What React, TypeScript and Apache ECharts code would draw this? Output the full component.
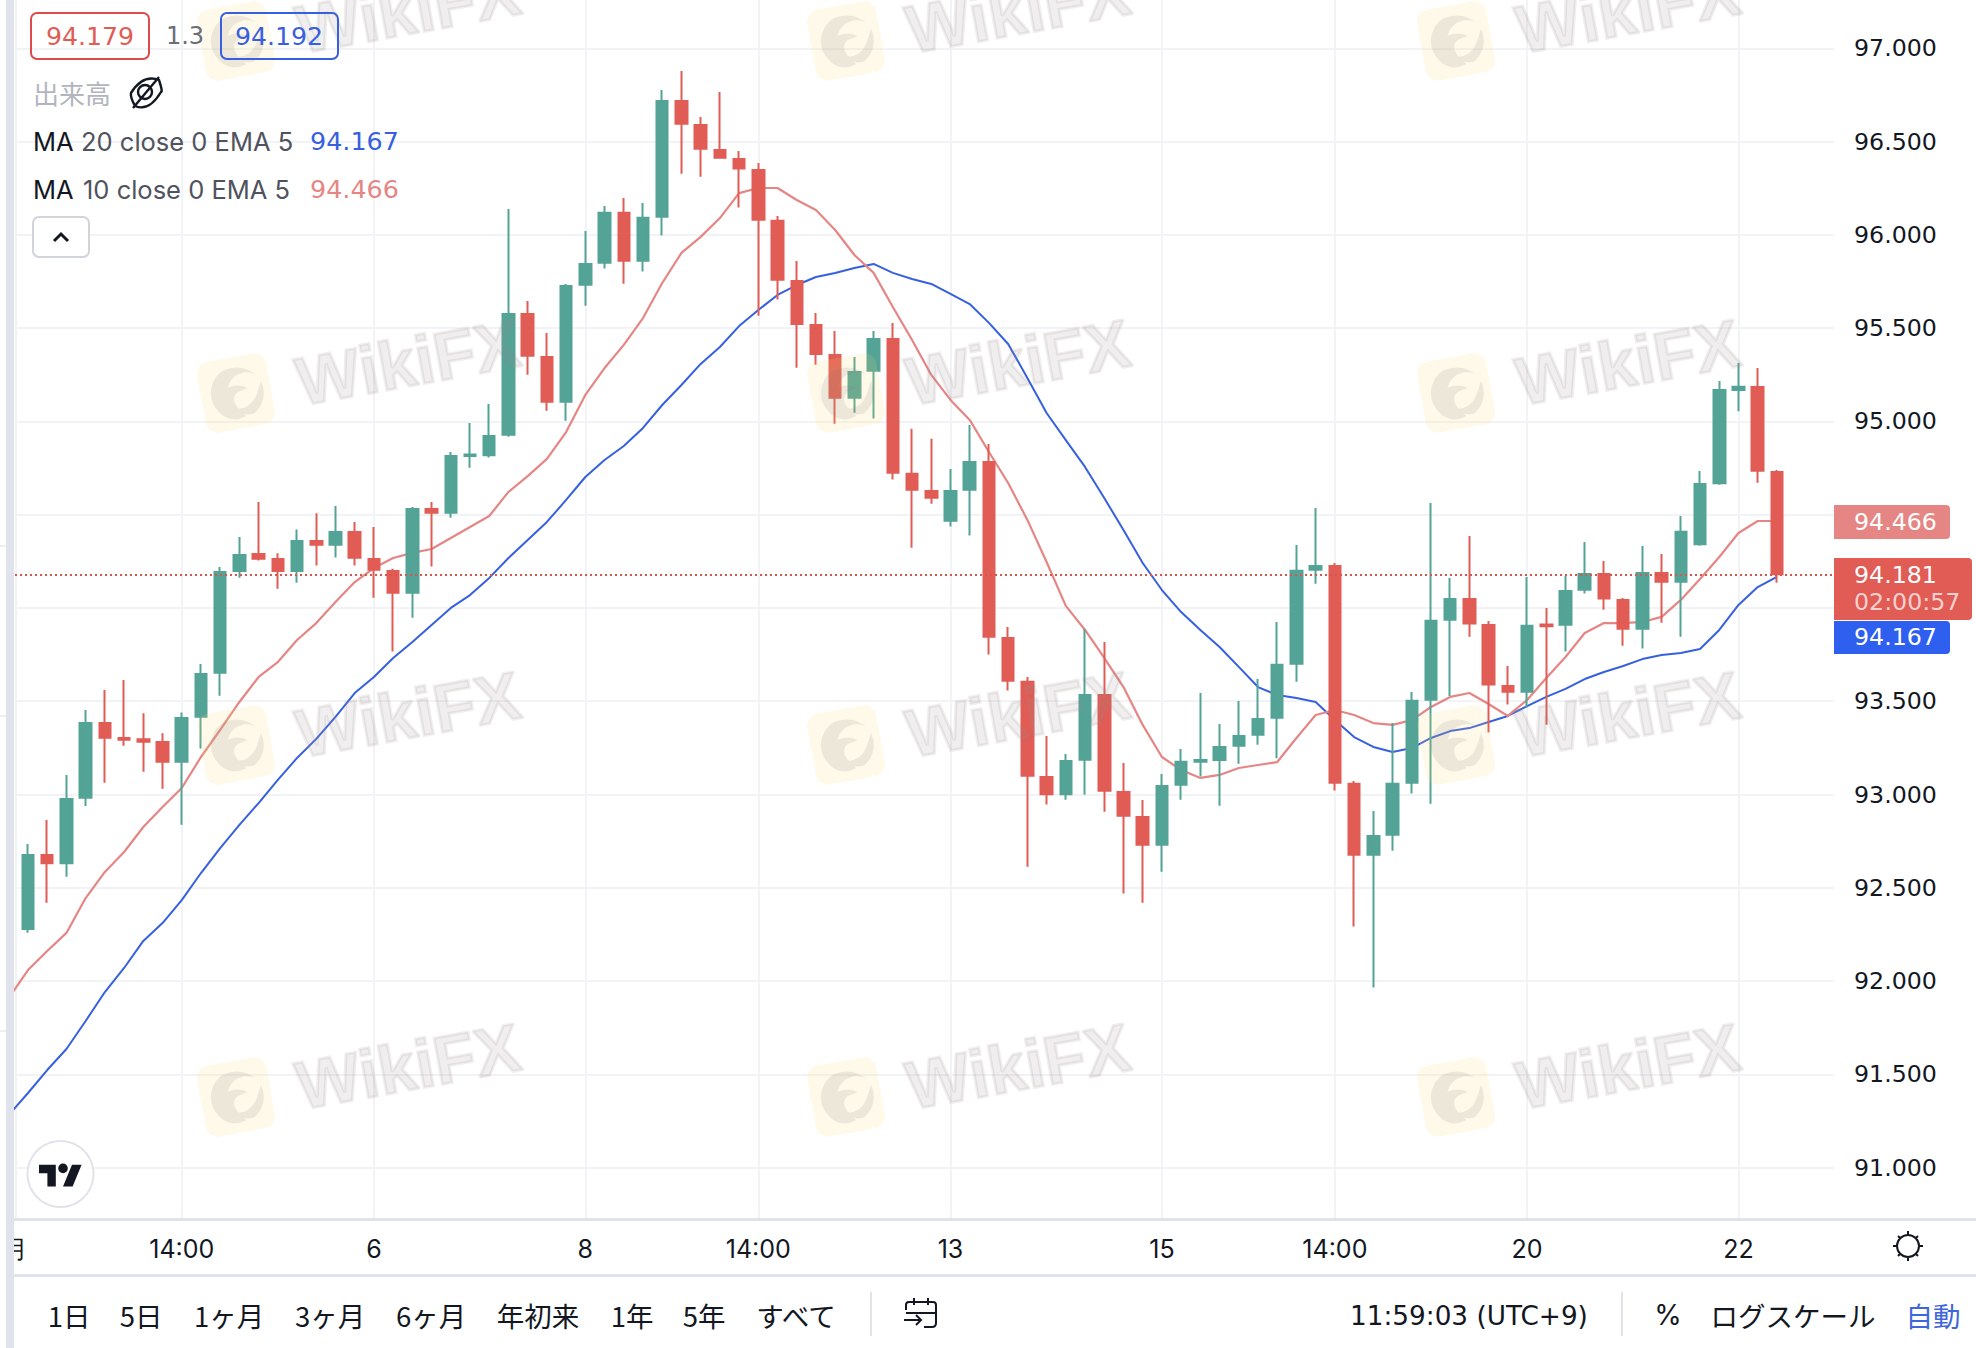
import React, { useEffect, useRef } from "react";
import * as echarts from "echarts";

const UI = "Inter, 'Noto Sans', sans-serif";
const NUM = "'DejaVu Sans', Inter, sans-serif";
const JP = "'Noto Sans CJK JP', Inter, sans-serif";
const TEAL = "#53a396";
const RED = "#e05c55";
const PINK = "#e58684";
const BLUE = "#3760e0";
const INK = "#131722";

// candle index of each row: the first row is the candle cut off by the left edge
const firstIndex = -1;
const opens = [92.372, 92.274, 92.681, 92.627, 92.978, 93.388, 93.303, 93.296, 93.287, 93.171, 93.412, 93.648, 94.193, 94.289, 94.268, 94.193, 94.364, 94.334, 94.412, 94.268, 94.203, 94.077, 94.536, 94.505, 94.815, 94.814, 94.923, 95.581, 95.35, 95.1, 95.727, 95.845, 96.123, 95.856, 96.092, 96.723, 96.594, 96.46, 96.412, 96.353, 96.08, 95.758, 95.522, 95.361, 95.122, 95.267, 95.447, 94.724, 94.632, 94.463, 94.629, 94.788, 93.844, 93.609, 93.099, 92.997, 93.181, 93.539, 93.019, 92.885, 92.726, 93.047, 93.176, 93.18, 93.257, 93.315, 93.407, 93.696, 94.2, 94.23, 93.062, 92.672, 92.779, 93.058, 93.503, 93.932, 94.053, 93.914, 93.587, 93.546, 93.911, 93.905, 94.093, 94.187, 94.048, 93.884, 94.193, 94.136, 94.337, 94.664, 95.168, 95.189, 94.734];
const closes = [92.274, 92.681, 92.627, 92.981, 93.388, 93.299, 93.294, 93.283, 93.171, 93.415, 93.651, 94.198, 94.289, 94.264, 94.193, 94.364, 94.334, 94.412, 94.264, 94.2, 94.077, 94.536, 94.505, 94.82, 94.823, 94.927, 95.581, 95.347, 95.1, 95.731, 95.849, 96.123, 95.856, 96.096, 96.723, 96.591, 96.457, 96.408, 96.35, 96.076, 95.754, 95.517, 95.356, 95.122, 95.27, 95.447, 94.72, 94.629, 94.586, 94.632, 94.788, 93.841, 93.605, 93.096, 92.997, 93.185, 93.539, 93.015, 92.881, 92.726, 93.051, 93.18, 93.185, 93.26, 93.319, 93.41, 93.7, 94.204, 94.23, 93.058, 92.672, 92.783, 93.062, 93.507, 93.936, 94.053, 93.911, 93.584, 93.546, 93.909, 93.902, 94.096, 94.187, 94.045, 93.884, 94.193, 94.136, 94.413, 94.669, 95.173, 95.186, 94.73, 94.175];
const lows = [92.274, 92.259, 92.42, 92.559, 92.938, 93.063, 93.262, 93.122, 93.031, 92.838, 93.246, 93.53, 94.162, 94.254, 94.103, 94.135, 94.227, 94.27, 94.227, 94.055, 93.766, 93.948, 94.222, 94.484, 94.752, 94.807, 94.918, 95.25, 95.057, 95.004, 95.62, 95.819, 95.738, 95.803, 95.996, 96.328, 96.312, 96.408, 96.146, 95.567, 95.653, 95.288, 95.304, 94.988, 95.047, 95.015, 94.688, 94.323, 94.559, 94.436, 94.388, 93.75, 93.557, 92.613, 92.946, 92.972, 92.999, 92.908, 92.469, 92.42, 92.586, 92.972, 93.096, 92.94, 93.165, 93.267, 93.194, 93.605, 94.13, 93.021, 92.292, 91.965, 92.699, 93.005, 92.951, 93.528, 93.846, 93.332, 93.482, 93.466, 93.374, 93.766, 94.077, 93.991, 93.798, 93.782, 93.921, 93.846, 94.334, 94.661, 95.055, 94.671, 94.135];
const highs = [92.372, 92.735, 92.863, 93.104, 93.453, 93.56, 93.614, 93.435, 93.328, 93.44, 93.7, 94.219, 94.38, 94.568, 94.293, 94.421, 94.507, 94.546, 94.461, 94.434, 94.21, 94.541, 94.568, 94.836, 94.991, 95.093, 96.138, 95.645, 95.474, 95.736, 96.021, 96.155, 96.198, 96.171, 96.777, 96.878, 96.632, 96.766, 96.45, 96.385, 96.101, 95.86, 95.581, 95.485, 95.345, 95.485, 95.527, 94.961, 94.907, 94.745, 94.981, 94.879, 93.898, 93.63, 93.314, 93.217, 93.887, 93.818, 93.169, 92.971, 93.11, 93.244, 93.544, 93.378, 93.501, 93.619, 93.925, 94.338, 94.536, 94.241, 93.073, 92.912, 93.383, 93.55, 94.563, 94.161, 94.386, 93.93, 93.689, 94.166, 94, 94.171, 94.354, 94.252, 94.053, 94.332, 94.289, 94.493, 94.734, 95.216, 95.313, 95.286, 94.739];
const ema10 = [91.909, 92.059, 92.161, 92.258, 92.445, 92.585, 92.692, 92.826, 92.933, 93.035, 93.201, 93.346, 93.496, 93.63, 93.71, 93.828, 93.919, 94.032, 94.139, 94.214, 94.268, 94.295, 94.316, 94.375, 94.434, 94.493, 94.622, 94.707, 94.799, 94.943, 95.142, 95.286, 95.41, 95.554, 95.742, 95.903, 95.989, 96.09, 96.224, 96.251, 96.251, 96.187, 96.133, 96.026, 95.892, 95.796, 95.613, 95.436, 95.249, 95.115, 95.008, 94.836, 94.67, 94.472, 94.246, 94.011, 93.882, 93.732, 93.576, 93.373, 93.201, 93.131, 93.089, 93.105, 93.142, 93.158, 93.174, 93.303, 93.426, 93.453, 93.426, 93.383, 93.373, 93.399, 93.469, 93.523, 93.544, 93.485, 93.421, 93.507, 93.625, 93.737, 93.866, 93.919, 93.919, 93.925, 93.952, 94.043, 94.155, 94.273, 94.402, 94.466, 94.466];
const ema20 = [91.282, 91.4, 91.523, 91.636, 91.786, 91.941, 92.07, 92.215, 92.311, 92.434, 92.579, 92.713, 92.837, 92.954, 93.078, 93.196, 93.298, 93.416, 93.544, 93.63, 93.732, 93.818, 93.909, 94, 94.069, 94.161, 94.268, 94.364, 94.461, 94.579, 94.702, 94.793, 94.868, 94.965, 95.088, 95.195, 95.308, 95.399, 95.511, 95.597, 95.678, 95.731, 95.774, 95.796, 95.822, 95.844, 95.796, 95.763, 95.737, 95.683, 95.629, 95.528, 95.415, 95.233, 95.045, 94.9, 94.756, 94.589, 94.418, 94.241, 94.096, 93.978, 93.882, 93.791, 93.684, 93.576, 93.533, 93.517, 93.496, 93.399, 93.308, 93.255, 93.228, 93.249, 93.303, 93.34, 93.356, 93.389, 93.421, 93.474, 93.523, 93.566, 93.619, 93.657, 93.689, 93.726, 93.748, 93.759, 93.78, 93.882, 94.016, 94.112, 94.166];
const lastLine = 94.176;

const priceGrid = [91, 91.5, 92, 92.5, 93, 93.5, 94, 94.5, 95, 95.5, 96, 96.5, 97];
// 94.000 and 94.500 sit under the price tags in the reference, so only these are printed
const priceLabels = [91, 91.5, 92, 92.5, 93, 93.5, 95, 95.5, 96, 96.5, 97];
const timeTickIndexes = [-0.65, 8, 18, 29, 38, 48, 59, 68, 78, 89];
const timeTickLabels = ["月", "14:00", "6", "8", "14:00", "13", "15", "14:00", "20", "22"];
const rangeLabels = ["1日", "5日", "1ヶ月", "3ヶ月", "6ヶ月", "年初来", "1年", "5年", "すべて"];
const rangeCentres = [69, 141, 229, 330, 431, 538, 632, 704, 796];
const watermarkCols = [238, 848, 1458];
const watermarkRows = [41, 393, 745, 1097];

echarts.graphic.registerShape("tvMark", echarts.graphic.extendPath("M14 22H7V11H0V4h14v18zM28 22h-8l7.5-18h8L28 22zM24 7a4 4 0 1 1-8 0a4 4 0 1 1 8 0z", {}));
echarts.graphic.registerShape("calendarIcon", echarts.graphic.extendPath("M906 1310V1305Q906 1302 909 1302H933Q936 1302 936 1305V1323Q936 1327 932 1327H924M906 1313H936M914 1298V1305M928 1298V1305M904 1320H921M916 1315L921 1320L916 1325", {}));
echarts.graphic.registerShape("sunIcon", echarts.graphic.extendPath("M1919 1246a11 11 0 1 1-22 0a11 11 0 1 1 22 0zM1908 1231V1235M1908 1257V1261M1893 1246H1897M1919 1246H1923M1898 1236L1900 1238M1916 1254L1918 1256M1918 1236L1916 1238M1900 1254L1898 1256", {}));
echarts.graphic.registerShape("eyeOff", echarts.graphic.extendPath("M131 93Q143 74 159 80Q163 92 161 92Q149 112 135 106Q130 97 131 93zM152 92a7 7 0 1 1-14 0a7 7 0 1 1 14 0zM133 108L159 77", {}));
echarts.graphic.registerShape("eagle", echarts.graphic.extendPath("M-26 8A27 27 0 0 1 -12 -24Q8 -30 22 -14Q18 -20 8 -20Q-6 -18 -10 -6Q0 -10 10 -4L0 -1Q-8 4 -2 14L6 24Q-16 32 -26 8zM24 -10A27 27 0 0 1 14 22Q2 24 -2 16Q12 16 18 4Q22 -4 24 -10z", {}));

const text = (s: string, x: number, y: number, fill: string, size = 24, align = "left", font = UI, z = 30) => ({
  type: "text", x, y, z, silent: true,
  style: { text: s, fill, fontSize: size, fontFamily: font, align, verticalAlign: "middle" },
});

function buildGraphics() {
  const g: any[] = [];
  for (const cx of watermarkCols) {
    for (const cy of watermarkRows) {
      g.push({ type: "rect", x: cx - 2, y: cy, rotation: 0.18, z: 10, silent: true, shape: { x: -35, y: -36, width: 70, height: 72, r: 12 }, style: { fill: "rgba(250,215,120,0.16)" } });
      g.push({ type: "eagle", x: cx, y: cy, rotation: 0.1, z: 10, silent: true, style: { fill: "rgba(120,115,125,0.13)" } });
      g.push({ type: "text", x: cx + 170, y: cy - 31, rotation: 0.18, z: 10, silent: true, style: { text: "WikiFX", fill: "#9c908f", stroke: "#9c908f", lineWidth: 3, lineJoin: "round", opacity: 0.15, fontSize: 68, fontWeight: "bold", fontFamily: "'Liberation Sans', sans-serif", align: "center", verticalAlign: "middle" } });
    }
  }
  // frame
  g.push({ type: "rect", z: 20, silent: true, shape: { x: 0, y: 0, width: 6, height: 1348 }, style: { fill: "#fff" } });
  g.push({ type: "rect", z: 20, silent: true, shape: { x: 6, y: 0, width: 8, height: 1348 }, style: { fill: "#e0e3eb" } });
  for (const y of [545, 715, 1030]) g.push({ type: "rect", z: 21, silent: true, shape: { x: 0, y, width: 6, height: 2 }, style: { fill: "#eceef2" } });
  g.push({ type: "rect", z: 20, silent: true, shape: { x: 14, y: 1218, width: 1962, height: 3 }, style: { fill: "#e0e3eb" } });
  g.push({ type: "rect", z: 20, silent: true, shape: { x: 14, y: 1274, width: 1962, height: 3 }, style: { fill: "#e0e3eb" } });

  // legend
  g.push({ type: "rect", z: 25, silent: true, shape: { x: 31, y: 13, width: 118, height: 46, r: 6 }, style: { fill: "transparent", stroke: "#df4a4a", lineWidth: 2 } });
  g.push(text("94.179", 90, 36, RED, 25.2, "center", NUM));
  g.push(text("1.3", 185, 36, "#6a6d78", 24, "center", NUM));
  g.push({ type: "rect", z: 25, silent: true, shape: { x: 221, y: 13, width: 117, height: 46, r: 6 }, style: { fill: "transparent", stroke: BLUE, lineWidth: 2 } });
  g.push(text("94.192", 279, 36, BLUE, 25.2, "center", NUM));
  g.push(text("出来高", 33, 92, "#b2b5be", 26, "left", JP));
  g.push({ type: "eyeOff", z: 30, silent: true, style: { fill: "none", stroke: INK, lineWidth: 2.4 } });
  g.push(text("MA", 33, 141, INK, 25.5));
  g.push(text("20 close 0 EMA 5", 81, 141, "#50535e", 25.5));
  g.push(text("94.167", 310, 141, BLUE, 25.4, "left", NUM));
  g.push(text("MA", 33, 189, INK, 25.5));
  g.push(text("10 close 0 EMA 5", 83, 189, "#50535e", 25.5));
  g.push(text("94.466", 310, 189, PINK, 25.4, "left", NUM));
  g.push({ type: "rect", z: 25, silent: true, shape: { x: 33, y: 217, width: 56, height: 40, r: 6 }, style: { fill: "#fff", stroke: "#d1d4dc", lineWidth: 2 } });
  g.push({ type: "polyline", z: 30, silent: true, shape: { points: [[54, 241], [61, 234], [68, 241]] }, style: { fill: "none", stroke: INK, lineWidth: 3 } });

  // TradingView badge
  g.push({ type: "circle", z: 25, silent: true, shape: { cx: 60.5, cy: 1174, r: 33 }, style: { fill: "#fff", stroke: "#e0e3eb", lineWidth: 2 } });
  g.push({ type: "tvMark", x: 39, y: 1160, scaleX: 1.2, scaleY: 1.2, z: 30, silent: true, style: { fill: INK } });

  // price tags
  g.push({ type: "rect", z: 25, silent: true, shape: { x: 1834, y: 505, width: 116, height: 34, r: [0, 4, 4, 0] }, style: { fill: "#e58684" } });
  g.push(text("94.466", 1854, 522, "#fff", 23.7, "left", NUM));
  g.push({ type: "rect", z: 25, silent: true, shape: { x: 1834, y: 558, width: 138, height: 62, r: [0, 4, 4, 0] }, style: { fill: RED } });
  g.push(text("94.181", 1854, 575, "#fff", 23.7, "left", NUM));
  g.push(text("02:00:57", 1854, 602, "rgba(255,255,255,0.72)", 23.7, "left", NUM));
  g.push({ type: "rect", z: 25, silent: true, shape: { x: 1834, y: 621, width: 116, height: 33, r: [0, 4, 4, 0] }, style: { fill: "#2f5fee" } });
  g.push(text("94.167", 1854, 637, "#fff", 23.7, "left", NUM));

  // bottom bar
  rangeLabels.forEach((s, i) => g.push(text(s, rangeCentres[i], 1315, INK, 27.5, "center", JP)));
  g.push({ type: "rect", z: 25, silent: true, shape: { x: 870, y: 1292, width: 2, height: 44 }, style: { fill: "#e0e3eb" } });
  g.push({ type: "calendarIcon", z: 30, silent: true, style: { fill: "none", stroke: INK, lineWidth: 2 } });
  g.push(text("11:59:03 (UTC+9)", 1350, 1316, INK, 26.3, "left", NUM));
  g.push({ type: "rect", z: 25, silent: true, shape: { x: 1621, y: 1292, width: 2, height: 44 }, style: { fill: "#e0e3eb" } });
  g.push(text("%", 1668, 1315, INK, 28, "center"));
  g.push(text("ログスケール", 1793, 1315, INK, 27.5, "center", JP));
  g.push(text("自動", 1933, 1315, "#3f66dc", 27.5, "center", JP));
  g.push({ type: "sunIcon", z: 30, silent: true, style: { fill: "none", stroke: INK, lineWidth: 2 } });
  return g;
}

const xOf = (row: number) => firstIndex + row;
// the stroke of a body adds half its width to each end, so wide bodies are drawn that much shorter
const strokeInset = 0.005;
const bodyEnd = (a: number, b: number) => (Math.abs(a - b) < 0.03 ? a : a + (a > b ? -strokeInset : strokeInset));

export default function App() {
  const ref = useRef<HTMLDivElement>(null);
  useEffect(() => {
    document.body.style.margin = "0";
    const chart = echarts.init(ref.current!, null, { renderer: "svg" });
    const xMin = -0.676;
    const xMax = 93.97;
    chart.setOption({
      animation: false,
      backgroundColor: "#fff",
      grid: { left: 14, right: 142, top: 0, bottom: 129 },
      xAxis: {
        type: "value", min: xMin, max: xMax,
        axisLine: { show: false },
        axisTick: { show: false, customValues: timeTickIndexes },
        splitLine: { show: true, lineStyle: { color: "#f2f3f6", width: 2 } },
        axisLabel: {
          customValues: timeTickIndexes, margin: 17, color: INK, fontSize: 25, fontFamily: UI,
          formatter: (v: number) => timeTickLabels[timeTickIndexes.indexOf(v)] ?? "",
        },
      },
      yAxis: {
        type: "value", position: "right", min: 90.7245, max: 97.2589,
        axisLine: { show: false },
        axisTick: { show: false, customValues: priceGrid },
        splitLine: { show: true, lineStyle: { color: "#f2f3f6", width: 2 } },
        axisLabel: {
          customValues: priceLabels, margin: 20, color: INK, fontSize: 23.7, fontFamily: NUM, padding: [3, 0, 0, 0],
          formatter: (v: number) => v.toFixed(3),
        },
      },
      series: [
        { type: "line", z: 1, name: "MA 20", showSymbol: false, lineStyle: { color: BLUE, width: 2 }, data: ema20.map((v, i) => [xOf(i), v]) },
        { type: "line", z: 1, name: "MA 10", showSymbol: false, lineStyle: { color: PINK, width: 2.2 }, data: ema10.map((v, i) => [xOf(i), v]) },
        {
          type: "candlestick", z: 2, name: "USDJPY", barWidth: 12,
          itemStyle: { color: TEAL, color0: RED, borderColor: TEAL, borderColor0: RED, borderWidth: 2 },
          data: opens.map((o, i) => [xOf(i), bodyEnd(o, closes[i]), bodyEnd(closes[i], o), lows[i], highs[i]]),
        },
        { type: "line", z: 3, name: "last", showSymbol: false, lineStyle: { color: "#d8554e", width: 2, type: [2, 3] }, data: [[xMin, lastLine], [xMax, lastLine]] },
      ],
      graphic: { elements: buildGraphics() },
    });
    return () => chart.dispose();
  }, []);
  return <div ref={ref} style={{ position: "fixed", left: 0, top: 0, width: 1976, height: 1348 }} />;
}
